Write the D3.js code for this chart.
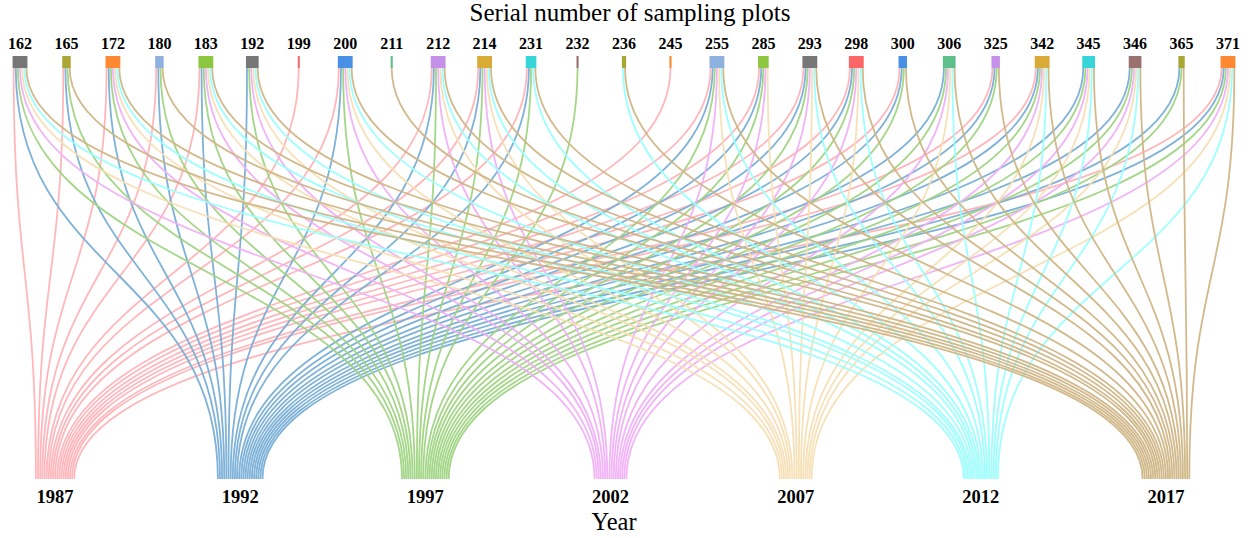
<!DOCTYPE html>
<html>
<head>
<meta charset="utf-8">
<script src="https://cdn.jsdelivr.net/npm/d3@7"></script>
<style>
  body { margin: 0; background: #fff; }
  svg { display: block; font-family: 'Liberation Serif', 'Times New Roman', serif; }
</style>
</head>
<body>
<div id="chart"></div>
<script>
const width = 1251;
const height = 538;

// sampling plots (top row) and their node colours
const plots = ['162', '165', '172', '180', '183', '192', '199', '200', '211', '212', '214', '231', '232', '236',
  '245', '255', '285', '293', '298', '300', '306', '325', '342', '345', '346', '365', '371'];
const plotColors = ['#777777', '#a9a634', '#ff8833', '#8fb1e0', '#8dc63f', '#777777', '#f06f6f', '#4a8fe6',
  '#5fbf8a', '#c590e8', '#d9ab36', '#36d6d8', '#9a7070', '#a9a634', '#ff8833', '#8fb1e0', '#8dc63f',
  '#777777', '#fc6666', '#4a8fe6', '#5fbf8a', '#c590e8', '#d9ab36', '#36d6d8', '#9a7070', '#a9a634', '#ff8833'];

// years (bottom row) and link colours
const years = ['1987', '1992', '1997', '2002', '2007', '2012', '2017'];
const yearColors = ['#ffb3b8', '#78aed6', '#9fd482', '#f0b0f7', '#f6dfb4', '#99ffff', '#d0b585'];

// plots sampled in each year
const plots1987 = ['162', '165', '172', '180', '183', '199', '200', '212', '214', '231', '245', '255', '285',
  '293', '298', '300', '325', '342', '371'];
const plots1992 = ['162', '165', '172', '180', '183', '192', '200', '212', '214', '231', '255', '285', '293',
  '298', '300', '306', '325', '342', '345', '346', '365', '371'];
const plots1997 = ['162', '165', '172', '180', '183', '192', '200', '212', '214', '231', '232', '255', '285',
  '293', '298', '300', '306', '325', '342', '345', '346', '365', '371'];
const plots2002 = ['162', '172', '183', '192', '200', '212', '214', '255', '285', '293', '298', '306', '342',
  '345', '346', '371'];
const plots2007 = ['162', '172', '183', '192', '200', '212', '214', '255', '285', '293', '298', '306', '342',
  '345', '346', '371'];
const plots2012 = ['162', '172', '183', '192', '200', '212', '214', '231', '236', '255', '293', '298', '306',
  '342', '345', '346', '371'];
const plots2017 = ['162', '165', '172', '180', '183', '192', '200', '211', '212', '214', '231', '236', '255',
  '293', '298', '300', '306', '325', '342', '345', '346', '365', '371'];
const yearPlots = [plots1987, plots1992, plots1997, plots2002, plots2007, plots2012, plots2017];

const topY = 56;
const nodeH = 12;
const bottomY = 479;

const svg = d3
  .select('#chart')
  .append('svg')
  .attr('width', width)
  .attr('height', height);

// build links
const links = [];
yearPlots.forEach((list, i) => {
  list.forEach((p) => links.push({ year: years[i], plot: p, value: 1 }));
});

const xTop = d3.scalePoint().domain(plots).range([20, 1228]);
const xBottom = d3.scalePoint().domain(years).range([55, 1166]);
const w = d3.scaleLinear().domain([0, 1]).range([0, 2.12]);

// node sizes
const plotValue = d3.rollup(links, (v) => d3.sum(v, (d) => d.value), (d) => d.plot);
const yearValue = d3.rollup(links, (v) => d3.sum(v, (d) => d.value), (d) => d.year);

// offsets at top: links sorted by year
plots.forEach((p) => {
  const ls = links.filter((l) => l.plot === p)
    .sort((a, b) => xBottom(a.year) - xBottom(b.year));
  let x = xTop(p) - w(plotValue.get(p)) / 2;
  ls.forEach((l) => {
    l.x0 = x + w(l.value) / 2;
    x += w(l.value);
  });
});
// offsets at bottom: links sorted by plot position
years.forEach((y) => {
  const ls = links.filter((l) => l.year === y)
    .sort((a, b) => xTop(a.plot) - xTop(b.plot));
  let x = xBottom(y) - w(yearValue.get(y)) / 2;
  ls.forEach((l) => {
    l.x1 = x + w(l.value) / 2;
    x += w(l.value);
  });
});

const link = d3.linkVertical()
  .source((d) => [d.x0, topY + nodeH])
  .target((d) => [d.x1, bottomY]);

svg.append('g')
  .attr('fill', 'none')
  .selectAll('path')
  .data(links)
  .join('path')
  .attr('d', link)
  .attr('stroke', (d) => yearColors[years.indexOf(d.year)])
  .attr('stroke-width', (d) => w(d.value) * 0.85)
  .attr('stroke-opacity', 0.95);

// top nodes
svg.append('g')
  .selectAll('rect')
  .data(plots)
  .join('rect')
  .attr('x', (d) => xTop(d) - w(plotValue.get(d)) / 2)
  .attr('y', topY)
  .attr('width', (d) => w(plotValue.get(d)))
  .attr('height', nodeH)
  .attr('fill', (d, i) => plotColors[i]);

svg.append('g')
  .selectAll('text')
  .data(plots)
  .join('text')
  .attr('x', (d) => xTop(d))
  .attr('y', 49)
  .attr('text-anchor', 'middle')
  .attr('font-weight', 'bold')
  .attr('font-size', 16)
  .text((d) => d);

svg.append('g')
  .selectAll('text')
  .data(years)
  .join('text')
  .attr('x', (d) => xBottom(d))
  .attr('y', 503)
  .attr('text-anchor', 'middle')
  .attr('font-weight', 'bold')
  .attr('font-size', 18.5)
  .text((d) => d);

svg.append('text')
  .attr('x', 630)
  .attr('y', 21)
  .attr('text-anchor', 'middle')
  .attr('font-size', 25)
  .text('Serial number of sampling plots');

svg.append('text')
  .attr('x', 614)
  .attr('y', 530)
  .attr('text-anchor', 'middle')
  .attr('font-size', 24.5)
  .text('Year');
</script>
</body>
</html>
